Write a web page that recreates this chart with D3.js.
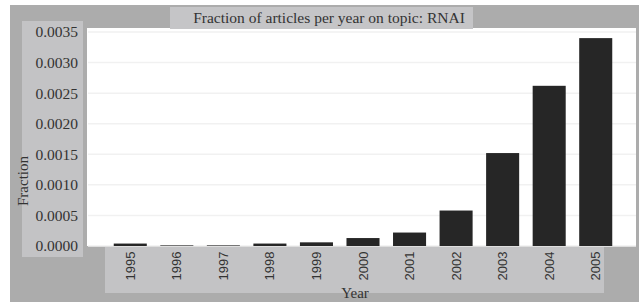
<!DOCTYPE html>
<html>
<head>
<meta charset="utf-8">
<script src="https://cdn.jsdelivr.net/npm/d3@7"></script>
<style>
  html, body { margin: 0; padding: 0; background: #fff; }
</style>
</head>
<body>
<div id="paper"></div>
<script>
// fraction of articles per year, topic RNAI

const years = ['1995', '1996', '1997', '1998', '1999', '2000', '2001', '2002', '2003', '2004', '2005']
const fraction = [0.00004, 0.00001, 0.00001, 0.00004, 0.00006, 0.00013, 0.00022, 0.00058, 0.00152, 0.00262, 0.00340]
const yTicks = [0, 0.0005, 0.0010, 0.0015, 0.0020, 0.0025, 0.0030, 0.0035]

const W = 639, H = 302
const serif = '"Liberation Serif", "DejaVu Serif", serif'

const svg = d3.select('#paper')
    .append('svg')
    .attr('id', 'canvas')
    .attr('width', W)
    .attr('height', H)

// scales
const x = d3.scaleBand()
    .domain(years)
    .range([107, 619])
    .paddingInner(0.29)
    .paddingOuter(0.145)

const y = d3.scaleLinear()
    .domain([0, 0.0035])
    .range([246, 32])

// background panels
svg.append('rect').attr('x', 10).attr('y', 5).attr('width', W - 10).attr('height', H - 5).attr('fill', '#acacac')
svg.append('rect').attr('x', 87).attr('y', 28).attr('width', 549).attr('height', 218).attr('fill', '#ffffff')
svg.append('rect').attr('x', 170).attr('y', 7).attr('width', 303).attr('height', 22).attr('fill', '#c5c5c7')
svg.append('rect').attr('x', 22).attr('y', 21).attr('width', 61).attr('height', 236).attr('fill', '#c3c3c5')
svg.append('rect').attr('x', 105).attr('y', 247).attr('width', 499).attr('height', 46).attr('fill', '#c3c3c5')

// grid
svg.append('g')
    .selectAll('line')
    .data(yTicks)
    .join('line')
    .attr('x1', 88)
    .attr('x2', 636)
    .attr('y1', d => y(d))
    .attr('y2', d => y(d))
    .style('stroke', '#f1f1f1')
    .style('stroke-width', 1.5)

// bars
svg.append('g')
    .selectAll('rect')
    .data(fraction)
    .join('rect')
    .attr('x', (d, i) => x(years[i]))
    .attr('width', x.bandwidth())
    .attr('y', d => y(d))
    .attr('height', d => y(0) - y(d))
    .attr('fill', '#262626')

// y axis
const yAxis = svg.append('g')
    .attr('transform', 'translate(83,0)')
    .call(d3.axisLeft(y).tickValues(yTicks).tickFormat(d3.format('.4f')).tickSize(0).tickPadding(5))
yAxis.select('.domain').remove()
yAxis.selectAll('text')
    .attr('font-family', serif)
    .attr('font-size', '15.5px')
    .style('fill', '#333')

// x axis
const xAxis = svg.append('g')
    .attr('transform', 'translate(0,247)')
    .call(d3.axisBottom(x).tickSize(0))
xAxis.select('.domain').remove()
xAxis.selectAll('text')
    .attr('font-family', '"Liberation Sans", Arial, sans-serif')
    .attr('font-size', '13px')
    .style('fill', '#333')
    .attr('transform', 'rotate(-90)')
    .attr('text-anchor', 'middle')
    .attr('x', -19)
    .attr('y', 0)
    .attr('dy', '0.35em')

// titles
svg.append('text')
    .attr('x', 329)
    .attr('y', 23)
    .attr('text-anchor', 'middle')
    .attr('font-family', serif)
    .attr('font-size', '15.5px')
    .style('fill', '#333')
    .text('Fraction of articles per year on topic: RNAI')

svg.append('text')
    .attr('x', 355)
    .attr('y', 298)
    .attr('text-anchor', 'middle')
    .attr('font-family', serif)
    .attr('font-size', '15px')
    .style('fill', '#333')
    .text('Year')

svg.append('text')
    .attr('transform', 'translate(28,181) rotate(-90)')
    .attr('text-anchor', 'middle')
    .attr('font-family', serif)
    .attr('font-size', '15px')
    .style('fill', '#333')
    .text('Fraction')
</script>
</body>
</html>
